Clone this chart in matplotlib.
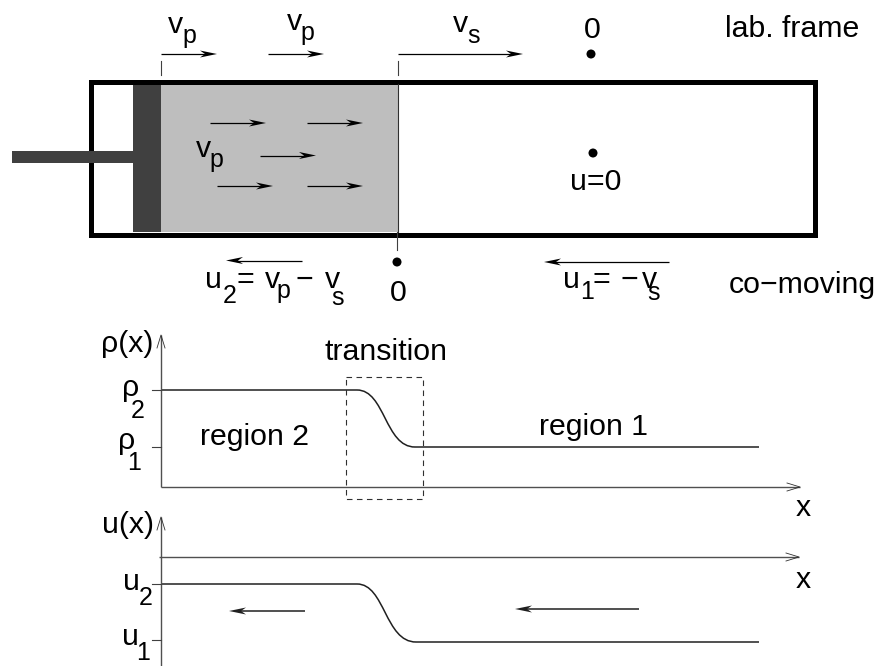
import numpy as np
import matplotlib
matplotlib.use("Agg")
import matplotlib.pyplot as plt
from matplotlib.patches import Rectangle, Circle, PathPatch, Polygon
from matplotlib.path import Path

plt.rcParams['font.family'] = ['Liberation Sans', 'DejaVu Sans']

box = (91.5, 81.5, 723.5, 153)
piston = (133, 84, 28, 148)
rod = (12, 151, 121, 12)
gas = (161, 84, 237, 148)

arrows_thin = [(161, 54, 217, 54), (268, 54, 324, 54), (398, 54, 523, 54),
               (210, 123, 266, 123), (307, 123, 363, 123), (260, 155.5, 316, 155.5),
               (217, 186, 273, 186), (307, 186, 363, 186),
               (302, 260.5, 226, 260.5), (669, 262, 544, 262)]
arrows_thick = [(305, 611, 229, 611), (639, 609, 515, 609)]
axis_arrows = [(161, 487, 161, 335), (161, 487, 800, 487),
               (161, 666, 161, 517), (159, 557, 799, 557)]
dots = [(591, 54), (593, 153), (397, 262)]
marks = [(161, 61, 161, 75), (398, 61, 398, 75), (397.5, 232, 397.5, 250)]
y_ticks = [390, 447, 584, 640]

# profile curves: start, bezier control points, end
rho_x = [161, 357, 385, 385, 415, 759]
rho_y = [390, 390, 390, 447, 447, 447]
u_x = [161, 357, 385, 385, 416, 759]
u_y = [584, 584, 584, 642, 642, 642]
trans_box = (346, 377, 77, 122)

big_text = [(168, 33, "v"), (287, 30, "v"), (453, 32, "v"), (196, 157, "v"),
            (584, 38, "0"), (725, 37, "lab. frame"), (570, 190, "u=0"),
            (563, 288, "u"), (593, 288, "="), (621, 288, "−"), (642, 288, "v"),
            (729, 293, "co−moving"),
            (205, 288, "u"), (237, 288, "="), (265, 288, "v"), (296, 288, "−"), (325, 288, "v"),
            (390, 301, "0"),
            (101, 352, "ρ(x)"), (102, 533, "u(x)"), (122, 396, "ρ"), (118, 449, "ρ"),
            (123, 590, "u"), (122, 645, "u"),
            (325, 360, "transition"), (200, 445, "region 2"), (539, 435, "region 1"),
            (796, 516, "x"), (796, 588, "x")]
sub_text = [(182, 43, "p"), (300, 40, "p"), (467, 43, "s"), (209, 167, "p"),
            (580, 299, "1"), (647, 300, "s"),
            (223, 303, "2"), (276, 298, "p"), (331, 305, "s")]
low_text = [(131, 418, "2"), (127, 470, "1"), (139, 605, "2"), (136, 660, "1")]

fig = plt.figure(figsize=(8.79, 6.66), dpi=100)
ax = fig.add_axes([0, 0, 1, 1])
ax.set_xlim(0, 879)
ax.set_ylim(666, 0)
ax.axis("off")

ax.add_patch(Rectangle(gas[:2], gas[2], gas[3], fc="#bebebe", ec="none"))
ax.add_patch(Rectangle(piston[:2], piston[2], piston[3], fc="#404040", ec="none"))
ax.add_patch(Rectangle(rod[:2], rod[2], rod[3], fc="#404040", ec="none", zorder=3))
ax.add_patch(Rectangle(box[:2], box[2], box[3], fc="none", ec="black", lw=3.6, joinstyle="miter", zorder=2))
ax.plot([398, 398], [84, 232], color="#303030", lw=0.8)


def arrow(c, lw, color="black"):
    # line with a barbed head, like the xfig arrows of the original
    tip = np.array(c[2:], float)
    d = tip - np.array(c[:2], float)
    d = d / np.hypot(*d)
    n = np.array([-d[1], d[0]])
    ax.plot([c[0], tip[0] - d[0] * 10], [c[1], tip[1] - d[1] * 10], color=color, lw=lw, solid_capstyle="butt")
    ax.add_patch(Polygon([tip, tip - 17 * d + 3.5 * n, tip - 12 * d, tip - 17 * d - 3.5 * n],
                         fc=color, ec="none"))


def open_arrow(c, lw, color="#505050"):
    tip = np.array(c[2:], float)
    d = tip - np.array(c[:2], float)
    d = d / np.hypot(*d)
    n = np.array([-d[1], d[0]])
    ax.plot([c[0], tip[0]], [c[1], tip[1]], color=color, lw=lw, solid_capstyle="butt")
    a = tip - 13 * d + 4 * n
    b = tip - 13 * d - 4 * n
    ax.plot([a[0], tip[0], b[0]], [a[1], tip[1], b[1]], color="#303030", lw=0.6)


for c in arrows_thin:
    arrow(c, 0.9)
for c in arrows_thick:
    arrow(c, 1.1, "#202020")
for c in axis_arrows:
    open_arrow(c, 1.0)

for x0, y0, x1, y1 in marks:
    ax.plot([x0, x1], [y0, y1], color="#404040", lw=0.8)
for y in y_ticks:
    ax.plot([152, 161], [y, y], color="#404040", lw=0.8)

for x, y in dots:
    ax.add_patch(Circle((x, y), 4.5, fc="black", ec="none"))

codes = [Path.MOVETO, Path.LINETO, Path.CURVE4, Path.CURVE4, Path.CURVE4, Path.LINETO]
for xs, ys in [(rho_x, rho_y), (u_x, u_y)]:
    ax.add_patch(PathPatch(Path(np.column_stack([xs, ys]), codes), fc="none", ec="#202020", lw=1.1))
ax.add_patch(Rectangle(trans_box[:2], trans_box[2], trans_box[3], fc="none",
                       ec="#303030", lw=0.8, ls=(0, (5, 4))))

for x, y, s in big_text:
    ax.text(x, y, s, fontsize=21.8, va="baseline", ha="left", color="black")
for x, y, s in sub_text + low_text:
    ax.text(x, y, s, fontsize=18, va="baseline", ha="left", color="black")

fig.savefig("out.png", dpi=100)
